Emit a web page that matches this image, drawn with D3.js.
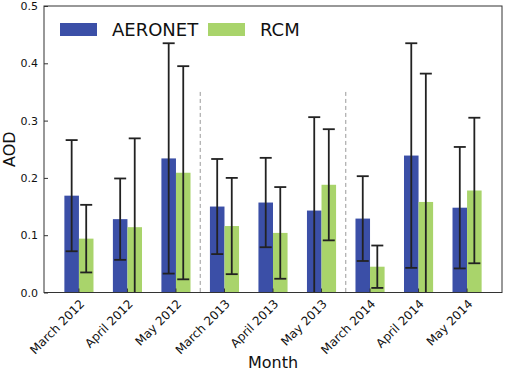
<!DOCTYPE html>
<html>
<head>
<meta charset="utf-8">
<script src="https://cdn.jsdelivr.net/npm/d3@7"></script>
<style>
  body { margin: 0; background: #fff; }
  text { font-family: "DejaVu Sans", sans-serif; fill: #111; }
</style>
</head>
<body>
<div id="chart"></div>
<script>
// AOD bar chart, AERONET vs RCM with std error bars

// Data
const months = ["March 2012", "April 2012", "May 2012", "March 2013", "April 2013", "May 2013", "March 2014", "April 2014", "May 2014"];
const aeronetMean = [0.169, 0.128, 0.234, 0.150, 0.157, 0.143, 0.129, 0.239, 0.148];
const aeronetStd  = [0.097, 0.071, 0.201, 0.083, 0.078, 0.163, 0.074, 0.196, 0.106];
const rcmMean = [0.094, 0.114, 0.209, 0.116, 0.104, 0.188, 0.045, 0.158, 0.178];
const rcmStd  = [0.059, 0.155, 0.186, 0.084, 0.080, 0.097, 0.037, 0.224, 0.127];
const yTicks = [0.0, 0.1, 0.2, 0.3, 0.4, 0.5];
const separators = ["March 2013", "March 2014"]; // dashed lines before these
const separatorTop = 0.35;

const series = [
  {name: "AERONET", mean: aeronetMean, std: aeronetStd, color: "#3b4fa7"},
  {name: "RCM", mean: rcmMean, std: rcmStd, color: "#a9d46b"}
];

// Dimensions
const margin = {top: 6, right: 3, bottom: 78.5, left: 44},
      width = 505 - margin.left - margin.right,
      height = 371 - margin.top - margin.bottom;

const svg = d3.select("#chart")
  .append("svg")
    .attr("width", 505)
    .attr("height", 371)
  .append("g")
    .attr("transform", `translate(${margin.left},${margin.top})`);

// Scales
const x = d3.scaleBand()
  .domain(months)
  .range([0, width])
  .paddingInner(0)
  .paddingOuter(0.22);
const barW = x.bandwidth() * 0.3;
const y = d3.scaleLinear()
  .domain([0, 0.5])
  .range([height, 0]);

// Separator dashed lines
svg.selectAll(".sep")
  .data(separators)
  .enter().append("line")
    .attr("x1", d => x(d)).attr("x2", d => x(d))
    .attr("y1", y(separatorTop)).attr("y2", y(0))
    .attr("stroke", "#999")
    .attr("stroke-width", 1)
    .attr("stroke-dasharray", "4,3");

// Bars + error bars
series.forEach((s, i) => {
  const rows = months.map((m, j) => ({m: m, v: s.mean[j], e: s.std[j]}));
  const cx = d => x(d.m) + x.bandwidth() / 2 + (i === 0 ? -barW / 2 : barW / 2);

  svg.selectAll(".bar" + i)
    .data(rows)
    .enter().append("rect")
      .attr("x", d => cx(d) - barW / 2)
      .attr("y", d => y(d.v))
      .attr("width", barW)
      .attr("height", d => y(0) - y(d.v))
      .attr("fill", s.color);

  const err = svg.selectAll(".err" + i)
    .data(rows)
    .enter().append("g")
      .attr("stroke", "#222")
      .attr("stroke-width", 1.8);
  err.append("line")
    .attr("x1", cx).attr("x2", cx)
    .attr("y1", d => y(Math.max(0, d.v - d.e)))
    .attr("y2", d => y(d.v + d.e));
  err.append("line")
    .attr("x1", d => cx(d) - 6).attr("x2", d => cx(d) + 6)
    .attr("y1", d => y(d.v + d.e)).attr("y2", d => y(d.v + d.e));
  err.filter(d => d.v - d.e > 0).append("line")
    .attr("x1", d => cx(d) - 6).attr("x2", d => cx(d) + 6)
    .attr("y1", d => y(d.v - d.e)).attr("y2", d => y(d.v - d.e));
});

// Frame
svg.append("rect")
  .attr("width", width).attr("height", height)
  .attr("fill", "none")
  .attr("stroke", "#333")
  .attr("stroke-width", 1);

// Axes (ticks pointing inward)
const yAxis = svg.append("g")
  .call(d3.axisLeft(y).tickValues(yTicks).tickFormat(d3.format(".1f")).tickSizeInner(-4).tickPadding(6));
yAxis.select(".domain").remove();
yAxis.selectAll("line").attr("stroke", "#333");
yAxis.selectAll("text").style("font-size", "11px");

const xAxis = svg.append("g")
  .attr("transform", `translate(0,${height})`)
  .call(d3.axisBottom(x).tickSizeInner(-4).tickSizeOuter(0).tickPadding(6));
xAxis.select(".domain").remove();
xAxis.selectAll("line").attr("stroke", "#333");
xAxis.selectAll("text")
  .style("font-size", "12px")
  .style("text-anchor", "end")
  .attr("dy", "0.35em")
  .attr("transform", "translate(-1,5)rotate(-45)");

// Axis labels
svg.append("text")
  .attr("x", width / 2).attr("y", height + 75)
  .attr("text-anchor", "middle")
  .style("font-size", "16px")
  .text("Month");
svg.append("text")
  .attr("transform", "rotate(-90)")
  .attr("x", -height / 2).attr("y", -29)
  .attr("text-anchor", "middle")
  .style("font-size", "16px")
  .text("AOD");

// Legend
const legend = svg.selectAll(".legend")
  .data(series)
  .enter().append("g")
    .attr("transform", (d, i) => `translate(${16 + i * 148},17)`);
legend.append("rect")
  .attr("width", 37).attr("height", 13)
  .attr("fill", d => d.color);
legend.append("text")
  .attr("x", 52).attr("y", 13)
  .style("font-size", "18px")
  .text(d => d.name);
</script>
</body>
</html>
